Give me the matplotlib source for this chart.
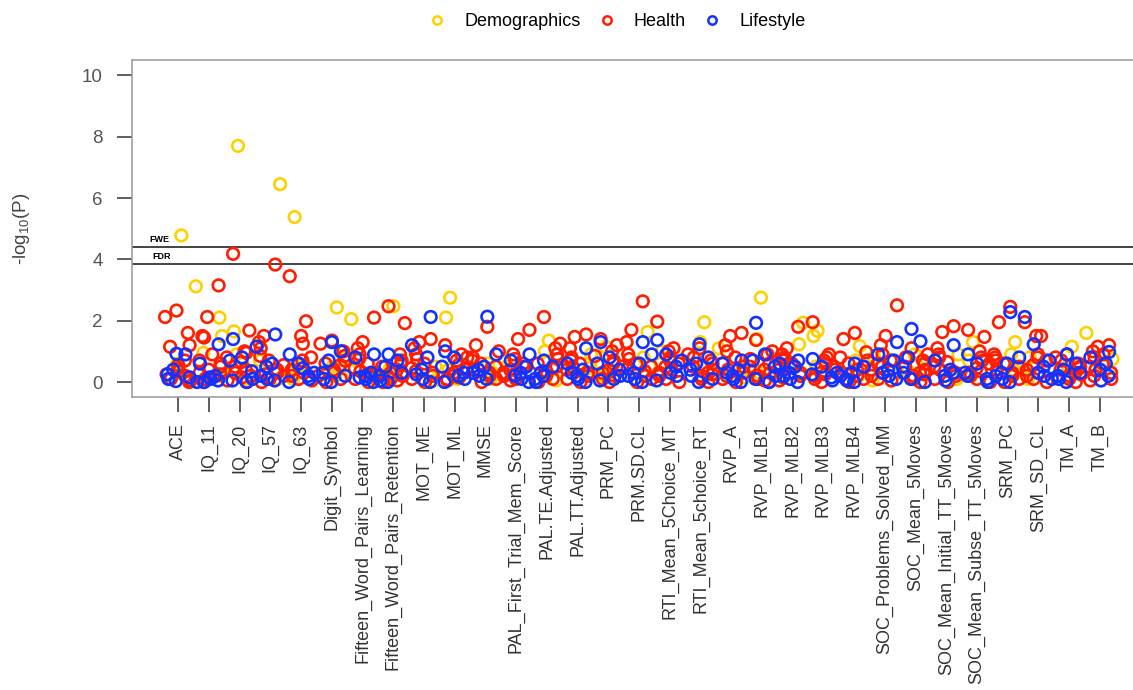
import numpy as np
import matplotlib.pyplot as plt

plt.rcParams['font.family'] = ['Liberation Sans', 'DejaVu Sans']
plt.rcParams['mathtext.default'] = 'regular'

# cognitive measures on the x axis
measures = ['ACE', 'IQ_11', 'IQ_20', 'IQ_57', 'IQ_63', 'Digit_Symbol',
            'Fifteen_Word_Pairs_Learning', 'Fifteen_Word_Pairs_Retention',
            'MOT_ME', 'MOT_ML', 'MMSE', 'PAL_First_Trial_Mem_Score',
            'PAL.TE.Adjusted', 'PAL.TT.Adjusted', 'PRM_PC', 'PRM.SD.CL',
            'RTI_Mean_5Choice_MT', 'RTI_Mean_5choice_RT', 'RVP_A', 'RVP_MLB1',
            'RVP_MLB2', 'RVP_MLB3', 'RVP_MLB4', 'SOC_Problems_Solved_MM',
            'SOC_Mean_5Moves', 'SOC_Mean_Initial_TT_5Moves',
            'SOC_Mean_Subse_TT_5Moves', 'SRM_PC', 'SRM_SD_CL', 'TM_A', 'TM_B']

# -log10(P) per measure, one inner list per measure
demographics = [
    [4.78, 0.6, 0.3, 0.1, 0.45],
    [3.12, 2.1, 1.5, 0.95, 0.2],
    [7.7, 1.65, 0.9, 0.1, 0.35],
    [6.45, 0.4, 0.1, 0.7],
    [5.38, 0.3, 0.1, 0.55],
    [2.43, 0.5, 0.2, 0.8],
    [2.05, 0.1, 0.4],
    [2.47, 0.4, 0.15],
    [0.5, 0.2, 0.05],
    [2.75, 2.1, 0.4, 0.1],
    [0.3, 0.6, 0.1],
    [0.5, 0.2, 0.7],
    [1.35, 1.0, 0.3, 0.05],
    [0.9, 0.2, 0.45],
    [1.15, 0.6, 0.2],
    [1.63, 0.8, 0.2],
    [1.0, 0.3, 0.6],
    [1.95, 1.3, 0.5],
    [1.1, 0.4, 0.15],
    [2.75, 1.4, 0.3],
    [1.93, 1.23, 0.3],
    [1.67, 1.5, 0.5],
    [1.17, 0.7, 0.2],
    [0.8, 0.3, 0.05],
    [0.6, 0.2, 0.9],
    [0.9, 0.3, 0.1],
    [1.3, 0.7, 0.2],
    [1.3, 0.9, 0.4],
    [0.8, 0.3, 0.1],
    [1.15, 0.5, 0.2],
    [1.6, 0.3, 0.75],
]

health = [
    [2.33, 2.12, 1.6, 1.2, 1.15, 0.7, 0.45, 0.35, 0.2, 0.1, 0.05, 0.0, 0.25, 0.55],
    [3.15, 2.12, 1.5, 1.45, 0.9, 0.7, 0.6, 0.5, 0.3, 0.15, 0.1, 0.0, 0.4, 0.25],
    [4.18, 1.68, 1.0, 0.95, 0.8, 0.65, 0.5, 0.3, 0.15, 0.05, 0.0, 0.4, 0.2],
    [3.83, 1.5, 1.3, 1.1, 0.7, 0.55, 0.4, 0.3, 0.2, 0.1, 0.0, 0.85, 0.25],
    [3.45, 1.98, 1.5, 1.25, 0.8, 0.6, 0.4, 0.2, 0.1, 0.05, 0.3, 0.7],
    [1.35, 1.25, 1.0, 0.7, 0.6, 0.55, 0.4, 0.3, 0.1, 0.0, 0.2, 0.85],
    [2.1, 1.3, 1.1, 0.9, 0.6, 0.45, 0.3, 0.2, 0.1, 0.0, 0.35, 0.75],
    [2.47, 1.92, 0.9, 0.7, 0.5, 0.4, 0.3, 0.1, 0.05, 0.0, 0.2, 0.6],
    [1.4, 1.3, 1.1, 0.9, 0.6, 0.45, 0.3, 0.2, 0.1, 0.0, 0.75, 0.35],
    [1.2, 0.9, 0.7, 0.55, 0.4, 0.2, 0.1, 0.05, 0.3, 0.8, 0.15],
    [1.8, 1.2, 1.0, 0.8, 0.6, 0.5, 0.3, 0.2, 0.1, 0.0, 0.4, 0.7],
    [1.7, 1.4, 0.9, 0.75, 0.6, 0.4, 0.3, 0.2, 0.05, 0.5, 0.1, 0.25],
    [2.12, 1.25, 1.1, 0.9, 0.6, 0.45, 0.35, 0.2, 0.1, 0.0, 0.75, 0.5],
    [1.55, 1.47, 1.1, 0.8, 0.6, 0.4, 0.3, 0.2, 0.1, 0.0, 0.5, 0.7],
    [1.4, 1.2, 1.0, 0.7, 0.5, 0.4, 0.3, 0.1, 0.0, 0.85, 0.2, 0.6],
    [2.63, 1.7, 1.3, 0.9, 0.6, 0.5, 0.35, 0.2, 0.1, 0.0, 0.75, 0.45],
    [1.97, 1.1, 1.0, 0.8, 0.6, 0.5, 0.3, 0.2, 0.1, 0.0, 0.4, 0.7],
    [1.1, 0.9, 0.7, 0.6, 0.5, 0.3, 0.2, 0.1, 0.0, 0.8, 0.4, 0.25],
    [1.6, 1.5, 1.2, 1.0, 0.8, 0.6, 0.5, 0.3, 0.1, 0.0, 0.4, 0.2],
    [1.37, 1.0, 0.9, 0.6, 0.5, 0.4, 0.2, 0.1, 0.05, 0.75, 0.3, 0.0],
    [1.8, 1.1, 0.9, 0.7, 0.6, 0.4, 0.3, 0.2, 0.05, 0.5, 0.8, 0.15],
    [1.95, 0.9, 0.7, 0.6, 0.5, 0.3, 0.2, 0.1, 0.0, 0.4, 0.8, 0.25],
    [1.6, 1.4, 0.97, 0.8, 0.6, 0.5, 0.4, 0.2, 0.1, 0.0, 0.3, 0.7],
    [2.5, 1.5, 1.2, 0.9, 0.7, 0.6, 0.4, 0.2, 0.1, 0.05, 0.3, 0.5],
    [1.1, 0.9, 0.7, 0.6, 0.5, 0.3, 0.2, 0.1, 0.0, 0.8, 0.4, 0.25],
    [1.82, 1.63, 1.1, 0.8, 0.65, 0.5, 0.3, 0.2, 0.1, 0.0, 0.4, 0.9],
    [1.7, 1.47, 1.0, 0.8, 0.6, 0.45, 0.3, 0.2, 0.1, 0.0, 0.7, 0.35],
    [2.45, 1.95, 0.9, 0.7, 0.6, 0.5, 0.3, 0.2, 0.1, 0.0, 0.4, 0.8],
    [1.95, 1.5, 1.5, 0.9, 0.7, 0.55, 0.4, 0.2, 0.1, 0.0, 0.3, 0.8],
    [0.9, 0.8, 0.6, 0.5, 0.4, 0.3, 0.2, 0.1, 0.0, 0.7, 0.25, 0.45],
    [1.2, 1.15, 1.0, 0.8, 0.6, 0.5, 0.3, 0.1, 0.05, 0.9, 0.4, 0.2],
]

lifestyle = [
    [0.92, 0.9, 0.4, 0.25, 0.1, 0.03, 0.15],
    [1.23, 0.6, 0.2, 0.15, 0.1, 0.05, 0.0, 0.0],
    [1.4, 0.8, 0.7, 0.35, 0.1, 0.05, 0.0],
    [1.55, 1.15, 0.6, 0.5, 0.1, 0.05, 0.2],
    [0.9, 0.6, 0.3, 0.2, 0.1, 0.0, 0.45],
    [1.3, 1.0, 0.7, 0.3, 0.1, 0.0, 0.2],
    [0.9, 0.8, 0.3, 0.2, 0.1, 0.0, 0.15],
    [0.9, 0.7, 0.5, 0.2, 0.05, 0.0, 0.3],
    [2.12, 1.2, 0.8, 0.4, 0.1, 0.0, 0.25],
    [1.0, 0.8, 0.5, 0.3, 0.1, 0.0, 0.2],
    [2.13, 0.9, 0.5, 0.4, 0.2, 0.1, 0.3],
    [0.9, 0.7, 0.5, 0.3, 0.1, 0.0, 0.2],
    [0.7, 0.5, 0.3, 0.1, 0.0, 0.2],
    [1.1, 0.6, 0.4, 0.2, 0.1, 0.0, 0.3],
    [1.3, 0.8, 0.6, 0.4, 0.2, 0.05, 0.1],
    [1.3, 0.9, 0.6, 0.3, 0.1, 0.0, 0.2],
    [1.37, 0.9, 0.7, 0.5, 0.2, 0.05, 0.3],
    [1.23, 0.8, 0.6, 0.4, 0.2, 0.0, 0.1],
    [0.7, 0.6, 0.4, 0.2, 0.1, 0.0, 0.3],
    [1.93, 0.9, 0.7, 0.5, 0.2, 0.1, 0.0],
    [0.7, 0.6, 0.5, 0.3, 0.1, 0.0, 0.2],
    [0.75, 0.5, 0.3, 0.15, 0.05, 0.25],
    [0.6, 0.5, 0.3, 0.1, 0.05, 0.0, 0.2],
    [1.3, 0.9, 0.7, 0.4, 0.2, 0.1, 0.3],
    [1.73, 1.33, 0.8, 0.5, 0.3, 0.1, 0.0],
    [1.2, 0.7, 0.4, 0.2, 0.05, 0.3],
    [0.9, 0.6, 0.3, 0.1, 0.0, 0.2],
    [2.28, 0.8, 0.6, 0.3, 0.1, 0.0, 0.2],
    [2.12, 1.23, 0.7, 0.5, 0.2, 0.1, 0.3],
    [0.9, 0.6, 0.4, 0.2, 0.1, 0.0, 0.3],
    [0.98, 0.8, 0.6, 0.4, 0.05, 0.2],
]

fwe = 4.40
fdr = 3.84

groups = [('Demographics', demographics, '#FFD000'),
          ('Health', health, '#FF1E00'),
          ('Lifestyle', lifestyle, '#1432FF')]

fig = plt.figure(figsize=(11.33, 6.9), dpi=100)
ax = fig.add_axes([0.1165, 0.4246, 0.895, 0.4884])

# sideways spread within each measure: Weyl sequence on k^2,
# so the offset does not follow the order of the values
golden = 0.6180339887
for g, (name, vals, col) in enumerate(groups):
    xs, ys = [], []
    for i, v in enumerate(vals):
        for j, y in enumerate(v):
            k = g * 37 + j + 1
            off = ((k * k * golden + i * 0.413) % 1.0 - 0.5) * 0.9
            xs.append(i + off)
            ys.append(y)
    ax.scatter(xs, ys, s=70, facecolors='none', edgecolors=col,
               linewidths=1.9, zorder=3)
    ax.plot([], [], 'o', mfc='none', mec=col, mew=1.8, ms=6, ls='none',
            label=name)

ax.axhline(fwe, color='#111111', lw=1.1, zorder=2)
ax.axhline(fdr, color='#111111', lw=1.1, zorder=2)
ax.text(-0.62, fwe + 0.26, 'FWE', fontsize=6.5, fontweight='bold',
        ha='center', va='center')
ax.text(-0.55, fdr + 0.26, 'FDR', fontsize=6.5, fontweight='bold',
        ha='center', va='center')

ax.set_xlim(-1.5, 31.5)
ax.set_ylim(-0.49, 10.5)
ax.set_xticks(range(len(measures)))
ax.set_xticklabels(measures, rotation=90, fontsize=13, color='#333333')
ax.set_yticks([0, 2, 4, 6, 8, 10])
ax.tick_params(axis='y', length=11, width=1.1, color='#333333',
               labelsize=13.5, labelcolor='#555555', pad=10)
ax.tick_params(axis='x', length=11, width=1.1, color='#333333', pad=8)
for s in ax.spines.values():
    s.set_color('#999999')
    s.set_linewidth(1.1)

fig.text(22 / 1133, 1 - 229 / 690, r'-log$_{10}$(P)', rotation=90,
         ha='center', va='center', fontsize=13.5, color='#444444')

fig.legend(loc='center', bbox_to_anchor=(617 / 1133, 1 - 22 / 690), ncol=3,
           frameon=False, fontsize=13, handlelength=1.0, handletextpad=1.0,
           columnspacing=0.95)

fig.savefig('out.png', dpi=100)
